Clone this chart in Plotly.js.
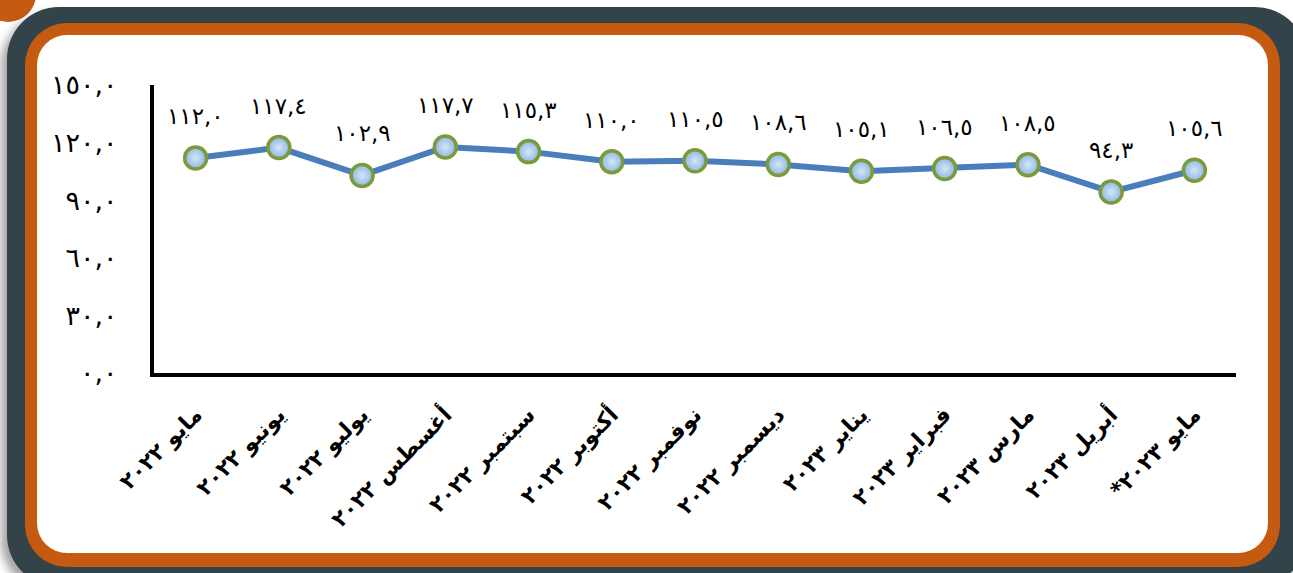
<!DOCTYPE html>
<html>
<head>
<meta charset="utf-8">
<script src="https://cdn.plot.ly/plotly-3.0.1.min.js"></script>
<style>
  html, body { margin:0; padding:0; width:1293px; height:573px; overflow:hidden; background:#ffffff; }
  #dot { position:absolute; left:-20px; top:-34px; width:56px; height:56px; border-radius:50%; background:#c55a11; }
  #outer { position:absolute; left:7px; top:7px; width:1300px; height:580px; border-radius:52px; background:#33434a;
           box-shadow:-6px 6px 9px rgba(0,0,0,0.35); }
  #orange { position:absolute; left:25px; top:23px; width:1255px; height:544px; border-radius:42px; background:#c55a11; }
  #white { position:absolute; left:37px; top:35px; width:1231px; height:518px; border-radius:30px; background:#ffffff; }
  #chart { position:absolute; left:0; top:0; width:1293px; height:573px; }
</style>
</head>
<body>
<div id="dot"></div>
<div id="outer"></div>
<div id="orange"></div>
<div id="white"></div>
<div id="chart"></div>
<script>
// ---- data ----
const months = [
  "مايو ٢٠٢٢", "يونيو ٢٠٢٢", "يوليو ٢٠٢٢", "أغسطس ٢٠٢٢", "سبتمبر ٢٠٢٢",
  "أكتوبر ٢٠٢٢", "نوفمبر ٢٠٢٢", "ديسمبر ٢٠٢٢", "يناير ٢٠٢٣", "فبراير ٢٠٢٣",
  "مارس ٢٠٢٣", "أبريل ٢٠٢٣", "مايو ٢٠٢٣*\u200F"
];
const values = [112.0, 117.4, 102.9, 117.7, 115.3, 110.0, 110.5, 108.6, 105.1, 106.5, 108.5, 94.3, 105.6];
const yTickVals = [0, 30, 60, 90, 120, 150];

// format number with Arabic-Indic digits and comma decimal separator
function ar(n) {
  const d = "٠١٢٣٤٥٦٧٨٩";
  return n.toFixed(1).replace(".", ",").replace(/[0-9]/g, c => d[+c]);
}
const yTickText = yTickVals.map(ar);
const labels = values.map(ar);

const trace = {
  x: months,
  y: values,
  type: "scatter",
  mode: "lines+markers",
  line: { color: "#4a7ebb", width: 6 },
  marker: {
    size: 22,
    color: "#8fb6e3",
    gradient: { type: "radial", color: "#d4e6f8" },
    line: { color: "#7a9a3c", width: 3.5 }
  },
  hoverinfo: "skip"
};

const annotations = values.map((v, i) => ({
  x: months[i], y: v, xref: "x", yref: "y",
  text: labels[i], showarrow: false, yshift: 42,
  font: { family: "DejaVu Sans", size: 23, color: "#000000" }
}));

const layout = {
  width: 1293, height: 573,
  margin: { l: 154, r: 57, t: 85, b: 200, pad: 0 },
  paper_bgcolor: "rgba(0,0,0,0)",
  plot_bgcolor: "rgba(0,0,0,0)",
  showlegend: false,
  font: { family: "DejaVu Sans", color: "#000000" },
  xaxis: {
    type: "category",
    range: [-0.5, months.length - 0.5],
    showgrid: false, zeroline: false,
    showline: true, linecolor: "#000000", linewidth: 4,
    ticks: "", tickangle: -45,
    ticklabelstandoff: 16,
    tickfont: { family: "DejaVu Sans", size: 22, color: "#000000", weight: "bold" }
  },
  yaxis: {
    range: [0, 150],
    tickvals: yTickVals, ticktext: yTickText,
    showgrid: false, zeroline: false,
    showline: true, linecolor: "#000000", linewidth: 4,
    ticks: "", ticklabelstandoff: 27,
    tickfont: { family: "DejaVu Sans", size: 27, color: "#000000" }
  },
  annotations: annotations
};

Plotly.newPlot("chart", [trace], layout, { displayModeBar: false, staticPlot: true });
</script>
</body>
</html>
